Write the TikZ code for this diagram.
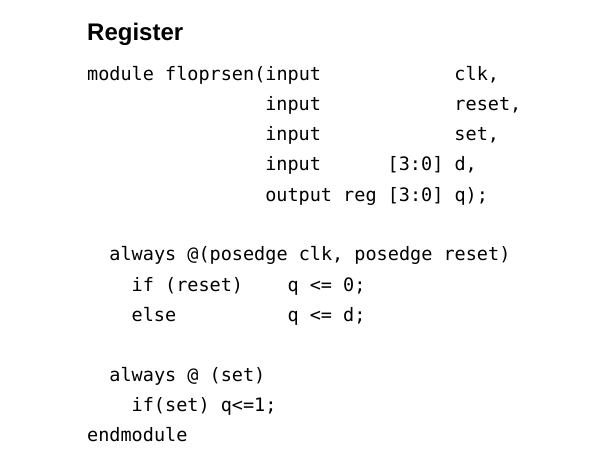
\documentclass[tikz,border=0pt]{standalone}
\usepackage{fontspec}
\setmainfont{Liberation Sans}
\newfontfamily\codefont{DejaVu Sans Mono}
\begin{document}
\begin{tikzpicture}[x=1pt,y=-1pt,
  codetext/.style={anchor=base west,inner sep=0pt,font=\codefont\fontsize{18.5}{22}\selectfont},
  titletext/.style={anchor=base west,inner sep=0pt,font=\bfseries\fontsize{24}{28}\selectfont}]
\useasboundingbox[fill=white] (0,0) rectangle (603,476);
\def\px{87}\def\pitch{11.13}
\newcommand\codeln[4]{\node[codetext] (#4) at ({\px+#1*\pitch},{81+#2*30}) {#3};}
\node[titletext] (title) at (87,41) {Register};
\codeln{0}{0}{module floprsen(input}{l0a}
\codeln{33}{0}{clk,}{l0b}
\codeln{16}{1}{input}{l1a}
\codeln{33}{1}{reset,}{l1b}
\codeln{16}{2}{input}{l2a}
\codeln{33}{2}{set,}{l2b}
\codeln{16}{3}{input}{l3a}
\codeln{27}{3}{[3:0] d,}{l3b}
\codeln{16}{4}{output reg [3:0] q);}{l4a}
\codeln{2}{6}{always @(posedge clk, posedge reset)}{l6a}
\codeln{4}{7}{if (reset)}{l7a}
\codeln{18}{7}{q <= 0;}{l7b}
\codeln{4}{8}{else}{l8a}
\codeln{18}{8}{q <= d;}{l8b}
\codeln{2}{10}{always @ (set)}{l10a}
\codeln{4}{11}{if(set) q<=1;}{l11a}
\codeln{0}{12}{endmodule}{l12a}
\end{tikzpicture}
\end{document}
